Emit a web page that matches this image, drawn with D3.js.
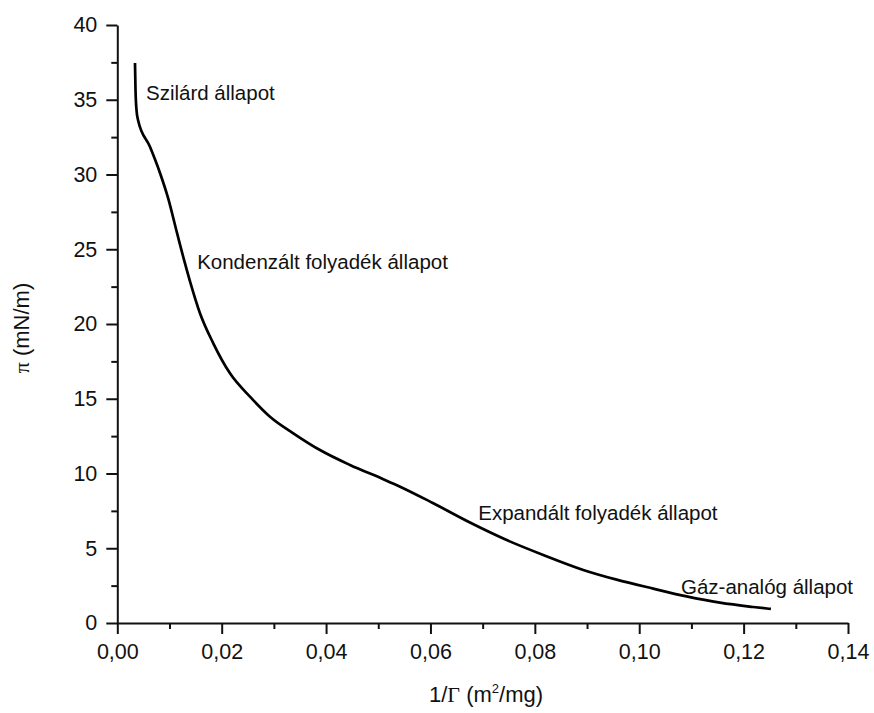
<!DOCTYPE html>
<html>
<head>
<meta charset="utf-8">
<script src="https://cdn.jsdelivr.net/npm/d3@7"></script>
<style>
  html, body { margin: 0; padding: 0; background: #fff; }
  svg text { font-family: Arial, "Liberation Sans", sans-serif; fill: #111; }
</style>
</head>
<body>
<svg id="chart" width="874" height="713"></svg>
<script>
// Surface pressure isotherm: π versus reciprocal surface concentration 1/Γ
const areaValues = [0.00339, 0.00349, 0.00368, 0.00397, 0.00626, 0.00818, 0.00971, 0.01144,
  0.01297, 0.01393, 0.01584, 0.01839, 0.02159, 0.02542, 0.02925, 0.03372, 0.03883, 0.04458,
  0.05096, 0.05418, 0.06054, 0.06757, 0.07460, 0.08161, 0.08927, 0.09567, 0.10268, 0.10908,
  0.11546, 0.12184, 0.12523];
const pressureValues = [37.46, 35.65, 34.31, 33.65, 31.85, 30.10, 28.45, 26.09,
  24.05, 22.85, 20.72, 18.71, 16.70, 15.14, 13.80, 12.69, 11.57, 10.57,
  9.62, 9.12, 8.01, 6.72, 5.55, 4.55, 3.55, 2.90, 2.30, 1.78,
  1.36, 1.07, 0.94];

const xTicks = [0, 0.02, 0.04, 0.06, 0.08, 0.10, 0.12, 0.14];
const xMinorTicks = [0.01, 0.03, 0.05, 0.07, 0.09, 0.11, 0.13];
const yTicks = [0, 5, 10, 15, 20, 25, 30, 35, 40];
const yMinorTicks = [2.5, 7.5, 12.5, 17.5, 22.5, 27.5, 32.5, 37.5];

// Phase-region labels placed at data coordinates
const phaseNames = ["Szilárd állapot", "Kondenzált folyadék állapot", "Expandált folyadék állapot", "Gáz-analóg állapot"];
const phaseX = [0.00550, 0.01530, 0.06915, 0.10800];
const phaseY = [35.0, 23.7, 6.9, 1.95];

const svg = d3.select("#chart");
const x = d3.scaleLinear().domain([0, 0.14]).range([117.3, 848]);
const y = d3.scaleLinear().domain([0, 40]).range([623, 25]);

const commaFmt = d => d3.format(".2f")(d).replace(".", ",");

// Minor ticks
svg.append("g")
  .attr("transform", `translate(0,${y(0)})`)
  .call(d3.axisBottom(x).tickValues(xMinorTicks).tickSize(6).tickFormat(""))
  .call(g => g.select(".domain").remove())
  .selectAll("line").attr("stroke", "#111").attr("stroke-width", 2);
svg.append("g")
  .attr("transform", `translate(${x(0)},0)`)
  .call(d3.axisLeft(y).tickValues(yMinorTicks).tickSize(6).tickFormat(""))
  .call(g => g.select(".domain").remove())
  .selectAll("line").attr("stroke", "#111").attr("stroke-width", 2);

// Major axes
const xAxis = svg.append("g")
  .attr("transform", `translate(0,${y(0)})`)
  .call(d3.axisBottom(x).tickValues(xTicks).tickSize(11).tickSizeOuter(0).tickPadding(10).tickFormat(commaFmt));
xAxis.select(".domain").attr("stroke", "#111").attr("stroke-width", 2);
xAxis.selectAll(".tick line").attr("stroke", "#111").attr("stroke-width", 2);
xAxis.selectAll(".tick text").attr("font-size", 21.5).attr("font-family", "Arial, 'Liberation Sans', sans-serif").attr("fill", "#111");

const yAxis = svg.append("g")
  .attr("transform", `translate(${x(0)},0)`)
  .call(d3.axisLeft(y).tickValues(yTicks).tickSize(11).tickSizeOuter(0).tickPadding(9).tickFormat(d3.format("d")));
yAxis.select(".domain").attr("stroke", "#111").attr("stroke-width", 2);
yAxis.selectAll(".tick line").attr("stroke", "#111").attr("stroke-width", 2);
yAxis.selectAll(".tick text").attr("font-size", 21.5).attr("font-family", "Arial, 'Liberation Sans', sans-serif").attr("fill", "#111");

// Isotherm curve
const points = areaValues.map((a, i) => [a, pressureValues[i]]);
svg.append("path")
  .datum(points)
  .attr("fill", "none")
  .attr("stroke", "#000")
  .attr("stroke-width", 2.7)
  .attr("stroke-linejoin", "round")
  .attr("stroke-linecap", "butt")
  .attr("d", d3.line().x(d => x(d[0])).y(d => y(d[1])).curve(d3.curveMonotoneX));

// Phase labels
svg.append("g").selectAll("text")
  .data(phaseNames)
  .join("text")
  .attr("x", (d, i) => x(phaseX[i]))
  .attr("y", (d, i) => y(phaseY[i]))
  .attr("font-size", 20.5)
  .text(d => d);

// Axis titles
const xTitle = svg.append("text")
  .attr("x", 486)
  .attr("y", 702)
  .attr("text-anchor", "middle")
  .attr("font-size", 22);
xTitle.append("tspan").text("1/");
xTitle.append("tspan").attr("font-family", "'Liberation Serif', 'Times New Roman', serif").text("Γ");
xTitle.append("tspan").text(" (m");
xTitle.append("tspan").attr("font-size", 13).attr("dy", -9).text("2");
xTitle.append("tspan").attr("dy", 9).text("/mg)");

const yTitle = svg.append("text")
  .attr("transform", "translate(29,328) rotate(-90)")
  .attr("text-anchor", "middle")
  .attr("font-size", 22);
yTitle.append("tspan").attr("font-family", "'Liberation Serif', 'Times New Roman', serif").text("π");
yTitle.append("tspan").text(" (mN/m)");
</script>
</body>
</html>
